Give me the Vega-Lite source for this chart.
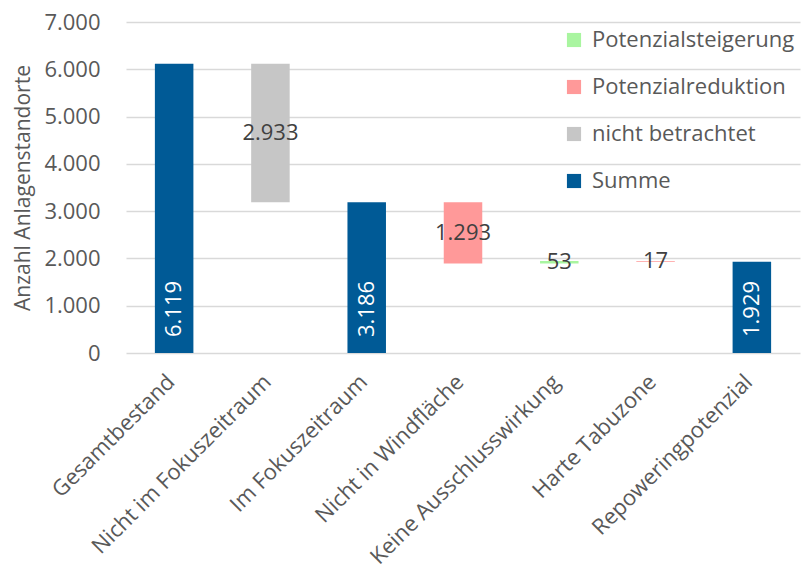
{
  "$schema": "https://vega.github.io/schema/vega-lite/v6.json",
  "width": 674,
  "height": 331,
  "autosize": {"type": "none"},
  "padding": {"left": 126, "top": 22, "right": 3, "bottom": 219},
  "background": "white",
  "config": {
    "locale": {"number": {"decimal": ",", "thousands": ".", "grouping": [3], "currency": ["", " €"]}},
    "font": "Open Sans",
    "view": {"stroke": null}
  },
  "data": {
    "values": [
      {"cat": "Gesamtbestand", "type": "Summe", "start": 0, "end": 6119, "amount": 6119},
      {"cat": "Nicht im Fokuszeitraum", "type": "nicht betrachtet", "start": 6119, "end": 3186, "amount": 2933},
      {"cat": "Im Fokuszeitraum", "type": "Summe", "start": 0, "end": 3186, "amount": 3186},
      {"cat": "Nicht in Windfläche", "type": "Potenzialreduktion", "start": 3186, "end": 1893, "amount": 1293},
      {"cat": "Keine Ausschlusswirkung", "type": "Potenzialsteigerung", "start": 1893, "end": 1946, "amount": 53},
      {"cat": "Harte Tabuzone", "type": "Potenzialreduktion", "start": 1946, "end": 1929, "amount": 17},
      {"cat": "Repoweringpotenzial", "type": "Summe", "start": 0, "end": 1929, "amount": 1929}
    ]
  },
  "encoding": {
    "x": {
      "field": "cat", "type": "nominal", "sort": null,
      "scale": {"paddingInner": 0.6, "paddingOuter": 0.3},
      "axis": {
        "title": null, "labelAngle": -45, "labelAlign": "right", "labelBaseline": "middle",
        "labelFontSize": 22, "labelColor": "#595959", "ticks": false, "domain": false,
        "labelPadding": 25, "labelOffset": -3, "labelLimit": 400
      }
    }
  },
  "layer": [
    {
      "mark": {"type": "bar"},
      "encoding": {
        "y": {
          "field": "start", "type": "quantitative",
          "scale": {"domain": [0, 7000], "nice": false},
          "axis": {
            "title": "Anzahl Anlagenstandorte", "titleFontSize": 21, "titleFontWeight": "normal",
            "titleColor": "#595959", "titlePadding": 10,
            "values": [0, 1000, 2000, 3000, 4000, 5000, 6000, 7000], "format": ",d",
            "labelFontSize": 22, "labelColor": "#595959", "labelPadding": 26,
            "ticks": false, "domain": false, "gridColor": "#D9D9D9", "gridWidth": 1.5
          }
        },
        "y2": {"field": "end"},
        "color": {
          "field": "type", "type": "nominal",
          "scale": {
            "domain": ["Potenzialsteigerung", "Potenzialreduktion", "nicht betrachtet", "Summe"],
            "range": ["#A9F5A0", "#FF9999", "#C6C6C6", "#005A96"]
          },
          "legend": {
            "title": null, "orient": "none", "legendX": 437, "legendY": 7,
            "symbolType": "square", "symbolSize": 200, "symbolStrokeWidth": 0,
            "labelFontSize": 22, "labelColor": "#595959", "labelOffset": 7,
            "labelLimit": 400, "rowPadding": 25
          }
        }
      }
    },
    {
      "transform": [{"filter": "datum.type === 'Summe'"}],
      "mark": {"type": "text", "angle": 270, "align": "left", "baseline": "middle", "dx": 16, "fontSize": 22, "color": "white"},
      "encoding": {
        "y": {"field": "start", "type": "quantitative"},
        "text": {"field": "amount", "type": "quantitative", "format": ",d"}
      }
    },
    {
      "transform": [
        {"filter": "datum.type !== 'Summe'"},
        {"fold": ["start", "end"], "as": ["k", "v"]}
      ],
      "mark": {"type": "text", "align": "center", "baseline": "middle", "fontSize": 22, "color": "#404040"},
      "encoding": {
        "y": {"aggregate": "mean", "field": "v", "type": "quantitative"},
        "text": {"field": "amount", "type": "quantitative", "format": ",d"}
      }
    }
  ]
}
